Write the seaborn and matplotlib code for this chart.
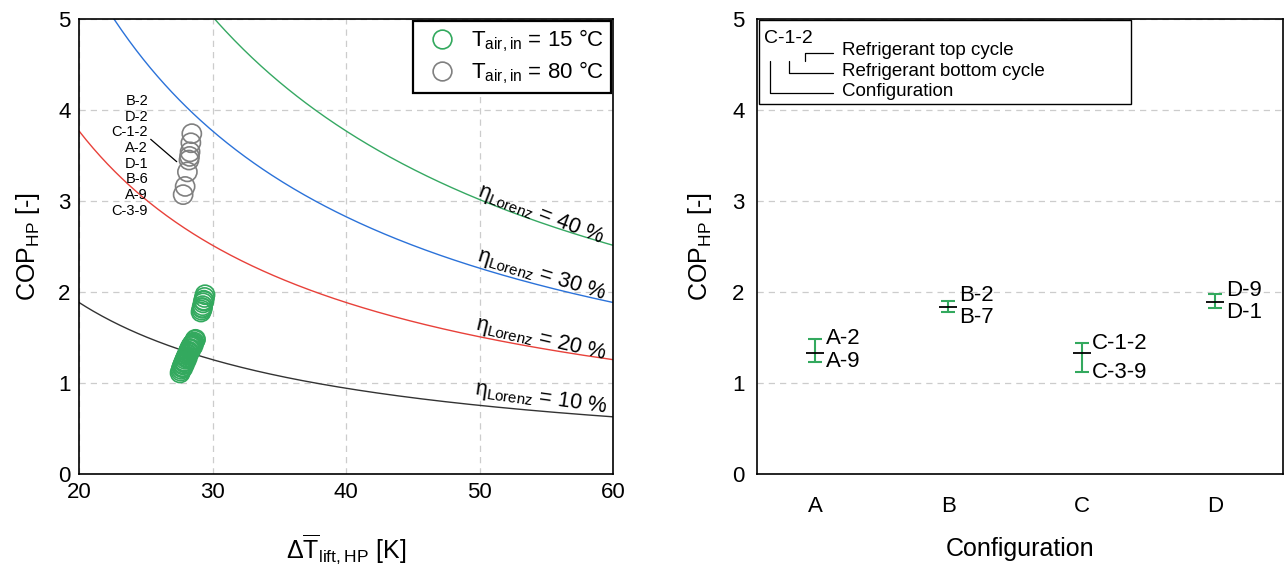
import numpy as np
import matplotlib
matplotlib.use("Agg")
import matplotlib.pyplot as plt
import seaborn as sns
from matplotlib.lines import Line2D
from matplotlib.patches import Rectangle

# ---------------- data ----------------
# Lorenz efficiency curves: COP = eta * T_sink / dT_lift
eta_levels = [0.10, 0.20, 0.30, 0.40]
eta_labels = ["10 %", "20 %", "30 %", "40 %"]
T_sink_K = 377.0

# T_air,in = 15 C (green) : lower cluster (configs A, C) and upper cluster (B, D)
green_dT = [27.57, 27.62, 27.66, 27.70, 27.74, 27.78, 27.82, 27.86, 27.90, 27.95,
            28.00, 28.05, 28.10, 28.14, 28.18, 28.22, 28.27, 28.32, 28.37, 28.42,
            28.47, 28.52, 28.57, 28.62, 28.68, 28.73, 27.80, 27.95, 28.10, 28.25,
            28.40, 28.55,
            29.44, 29.40, 29.34, 29.30, 29.26, 29.22, 29.18, 29.14, 29.24, 29.36]
green_cop = [1.11, 1.13, 1.15, 1.17, 1.18, 1.20, 1.21, 1.23, 1.24, 1.26,
             1.28, 1.29, 1.31, 1.32, 1.34, 1.35, 1.37, 1.38, 1.40, 1.41,
             1.42, 1.43, 1.44, 1.45, 1.47, 1.48, 1.17, 1.22, 1.27, 1.33,
             1.37, 1.41,
             1.97, 1.94, 1.91, 1.88, 1.85, 1.83, 1.80, 1.78, 1.82, 1.90]

# T_air,in = 80 C (gray)
gray_names = ["B-2", "D-2", "C-1-2", "A-2", "D-1", "B-6", "A-9", "C-3-9"]
gray_dT = [28.45, 28.38, 28.32, 28.28, 28.24, 28.12, 27.95, 27.80]
gray_cop = [3.74, 3.64, 3.54, 3.49, 3.45, 3.32, 3.16, 3.07]

# Right panel: COP range per configuration
configs = ["A", "B", "C", "D"]
cop_center = [1.333, 1.832, 1.326, 1.887]
cop_min = [1.234, 1.777, 1.117, 1.820]
cop_max = [1.484, 1.904, 1.436, 1.975]
label_max = ["A-2", "B-2", "C-1-2", "D-9"]
label_min = ["A-9", "B-7", "C-3-9", "D-1"]

# ---------------- style ----------------
sns.set_theme(style="white")
plt.rcParams["font.family"] = ["Liberation Sans", "DejaVu Sans"]
plt.rcParams["mathtext.fontset"] = "custom"
plt.rcParams["mathtext.rm"] = "Liberation Sans"
plt.rcParams["mathtext.it"] = "Liberation Sans:italic"
plt.rcParams["mathtext.default"] = "regular"
plt.rcParams["text.color"] = "black"
plt.rcParams["axes.labelcolor"] = "black"
plt.rcParams["xtick.color"] = "black"
plt.rcParams["ytick.color"] = "black"

green = "#33A95E"
gray = "#808080"
curve_colors = ["#333333", "#E8413A", "#2B72D9", "#35A862"]
grid_kw = dict(color="#cccccc", linestyle=(0, (5, 4)), linewidth=0.9)

fig = plt.figure(figsize=(12.85, 5.67), dpi=100)
axL = fig.add_axes([79 / 1285, 93 / 567, 534 / 1285, 455 / 567])
axR = fig.add_axes([757 / 1285, 93 / 567, 526 / 1285, 455 / 567])

# ---------------- left panel ----------------
dT_grid = np.linspace(20, 60, 300)
for eta, col in zip(eta_levels, curve_colors):
    sns.lineplot(x=dT_grid, y=eta * T_sink_K / dT_grid, ax=axL, color=col,
                 linewidth=1.0, zorder=2)

lab_pos = [(54.6, 0.83, -8), (54.6, 1.48, -13), (54.6, 2.19, -17), (54.6, 2.85, -21)]
for (x, y, rot), lab in zip(lab_pos, eta_labels):
    axL.text(x, y, r"$\eta_{Lorenz}$ = " + lab, fontsize=15.5, rotation=rot,
             rotation_mode="anchor", ha="center", va="center", zorder=5)

sns.scatterplot(x=gray_dT, y=gray_cop, ax=axL, s=190, marker="o",
                facecolors="none", edgecolor=gray, linewidth=1.2, zorder=4)
sns.scatterplot(x=green_dT, y=green_cop, ax=axL, s=190, marker="o",
                facecolors="none", edgecolor=green, linewidth=1.2, zorder=4)

y0, step = 4.10, 0.1724
for i, name in enumerate(gray_names):
    axL.text(25.17, y0 - i * step, name, fontsize=10.5, ha="right", va="center")
axL.plot([25.37, 27.32], [3.678, 3.432], color="black", linewidth=0.9)

axL.set_xlim(20, 60)
axL.set_ylim(0, 5)
axL.set_xticks([20, 30, 40, 50, 60])
axL.set_yticks([0, 1, 2, 3, 4, 5])
axL.grid(True, **grid_kw)
axL.set_xlabel(r"$\Delta\overline{T}_{lift,HP}$ [K]", fontsize=18, labelpad=21)
axL.set_ylabel(r"COP$_{HP}$ [-]", fontsize=18, labelpad=12)

handles = [
    Line2D([], [], marker="o", linestyle="none", markersize=13.5,
           markerfacecolor="none", markeredgecolor=green, markeredgewidth=1.2),
    Line2D([], [], marker="o", linestyle="none", markersize=13.5,
           markerfacecolor="none", markeredgecolor=gray, markeredgewidth=1.2),
]
leg = axL.legend(handles, [r"T$_{air,in}$ = 15 °C", r"T$_{air,in}$ = 80 °C"],
                 loc="upper right", fontsize=16, frameon=True, fancybox=False,
                 edgecolor="black", framealpha=1, borderaxespad=0.1,
                 handletextpad=0.3, labelspacing=0.25, borderpad=0.3)
leg.get_frame().set_linewidth(1.6)

# ---------------- right panel ----------------
xpos = np.arange(len(configs))
lo = np.array(cop_center) - np.array(cop_min)
hi = np.array(cop_max) - np.array(cop_center)
axR.errorbar(xpos, cop_center, yerr=[lo, hi], fmt="none", ecolor=green,
             elinewidth=1.5, capsize=5, capthick=1.5, zorder=3)
sns.scatterplot(x=xpos, y=cop_center, ax=axR, marker="_", s=180,
                color="black", linewidth=1.3, zorder=4)

for i in range(len(configs)):
    mid = (cop_max[i] + cop_min[i]) / 2
    half = max((cop_max[i] - cop_min[i]) / 2, 0.118)
    axR.text(xpos[i] + 0.08, mid + half, label_max[i], fontsize=16,
             ha="left", va="center")
    axR.text(xpos[i] + 0.08, mid - half, label_min[i], fontsize=16,
             ha="left", va="center")

axR.set_xlim(-0.435, 3.51)
axR.set_ylim(0, 5)
axR.set_xticks(xpos)
axR.set_xticklabels(configs)
axR.set_yticks([0, 1, 2, 3, 4, 5])
axR.yaxis.grid(True, **grid_kw)
axR.xaxis.grid(False)
axR.set_xlabel("Configuration", fontsize=18, labelpad=14)
axR.set_ylabel(r"COP$_{HP}$ [-]", fontsize=18, labelpad=13)

# explanation box
tA = axR.transAxes
axR.add_patch(Rectangle((0.004, 0.813), 0.707, 0.185, transform=tA,
                        facecolor="white", edgecolor="black", linewidth=1.0,
                        zorder=5))
axR.text(0.0133, 0.958, "C-1-2", fontsize=14, ha="left", va="center",
         transform=tA, zorder=6)
ytop = 0.9083
for xv, yh, txt in [(0.0913, 0.9259, "Refrigerant top cycle"),
                    (0.0614, 0.8807, "Refrigerant bottom cycle"),
                    (0.0247, 0.8367, "Configuration")]:
    axR.plot([xv, xv, 0.1445], [ytop, yh, yh], color="black", linewidth=0.9,
             transform=tA, zorder=6)
    axR.text(0.1616, yh + 0.004, txt, fontsize=13.5, ha="left", va="center",
             transform=tA, zorder=6)

for ax in (axL, axR):
    for sp in ax.spines.values():
        sp.set_color("black")
        sp.set_linewidth(1.2)
    ax.tick_params(axis="both", labelsize=16, colors="black", length=0, pad=6)
axR.tick_params(axis="x", pad=16)
axR.tick_params(axis="y", pad=9)

fig.savefig("out.png", dpi=100)
